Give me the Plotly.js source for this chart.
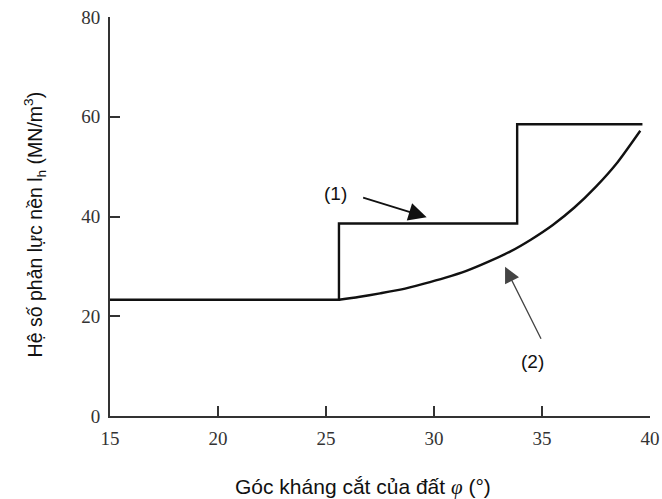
<!DOCTYPE html>
<html>
<head>
<meta charset="utf-8">
<script src="https://cdn.plot.ly/plotly-3.0.1.min.js"></script>
<style>html,body{margin:0;padding:0;background:#fff;}#chart{width:662px;height:499px;}</style>
</head>
<body>
<div id="chart"></div>
<script>
// Step line (1)
const stepX = [15, 25.6, 33.85, 39.65];
const stepY = [23.3, 38.6, 58.5, 58.5];
// Curve (2)
const curveX = [25.6, 26.5, 27.5, 28.5, 29.5, 30.5, 31.5, 32.5, 33.5, 34.5, 35.5, 36.5, 37.5, 38.5, 39.55];
const curveY = [23.3, 23.85, 24.6, 25.4, 26.5, 27.7, 29.1, 30.9, 32.9, 35.4, 38.3, 41.8, 46.0, 50.9, 57.2];
const xTicks = [15, 20, 25, 30, 35, 40];
const yTicks = [0, 20, 40, 60, 80];
const label1 = "(1)";
const label2 = "(2)";

const traces = [
  {x: stepX, y: stepY, mode: 'lines', line: {shape: 'hv', color: '#111', width: 2.4}, hoverinfo: 'skip'},
  {x: curveX, y: curveY, mode: 'lines', line: {shape: 'spline', smoothing: 0.6, color: '#111', width: 2.4}, hoverinfo: 'skip'}
];

const tickFont = {family: '"Liberation Serif", "Times New Roman", serif', size: 19, color: '#333'};
const sans = '"Liberation Sans", Arial, sans-serif';
const layout = {
  width: 662, height: 499,
  margin: {l: 110, r: 12, t: 17, b: 83},
  showlegend: false,
  paper_bgcolor: '#fff', plot_bgcolor: '#fff',
  xaxis: {
    range: [15, 40], tickvals: xTicks, ticks: 'inside', ticklen: 10, tickwidth: 2, tickcolor: '#333',
    showline: true, linecolor: '#333', linewidth: 2, showgrid: false, zeroline: false,
    tickfont: tickFont, ticklabelstandoff: 4
  },
  yaxis: {
    range: [0, 80], tickvals: yTicks, ticks: 'inside', ticklen: 10, tickwidth: 2, tickcolor: '#333',
    showline: true, linecolor: '#333', linewidth: 2, showgrid: false, zeroline: false,
    tickfont: tickFont, ticklabelstandoff: 4
  },
  annotations: [
    {xref: 'paper', yref: 'paper', x: -0.139, y: 0.48, textangle: -90, showarrow: false,
     xanchor: 'center', yanchor: 'middle',
     text: 'Hệ số phản lực nền l<sub>h</sub> (MN/m<sup>3</sup>)',
     font: {family: sans, size: 19.5, color: '#111'}},
    {xref: 'paper', yref: 'paper', x: 0.228, y: -0.178, showarrow: false,
     xanchor: 'left', yanchor: 'middle',
     text: 'Góc kháng cắt của đất <i><span style="font-family:\'Liberation Serif\',serif">φ</span></i> (°)',
     font: {family: sans, size: 21, color: '#111'}},
    {x: 25.42, y: 44.6, text: label1, showarrow: false, xanchor: 'center', yanchor: 'middle',
     font: {family: sans, size: 19, color: '#111'}},
    {x: 34.58, y: 11, text: label2, showarrow: false, xanchor: 'center', yanchor: 'middle',
     font: {family: sans, size: 19, color: '#111'}},
    {x: 29.66, y: 39.86, ax: 26.65, ay: 43.86, axref: 'x', ayref: 'y', text: '', showarrow: true,
     arrowhead: 2, arrowsize: 2, arrowwidth: 1.8, arrowcolor: '#111', standoff: 0},
    {x: 33.29, y: 29.9, ax: 34.99, ay: 15.2, axref: 'x', ayref: 'y', text: '', showarrow: true,
     arrowhead: 2, arrowsize: 2.4, arrowwidth: 1.3, arrowcolor: '#444', standoff: 0}
  ]
};
Plotly.newPlot('chart', traces, layout, {displayModeBar: false, staticPlot: true});
</script>
</body>
</html>
